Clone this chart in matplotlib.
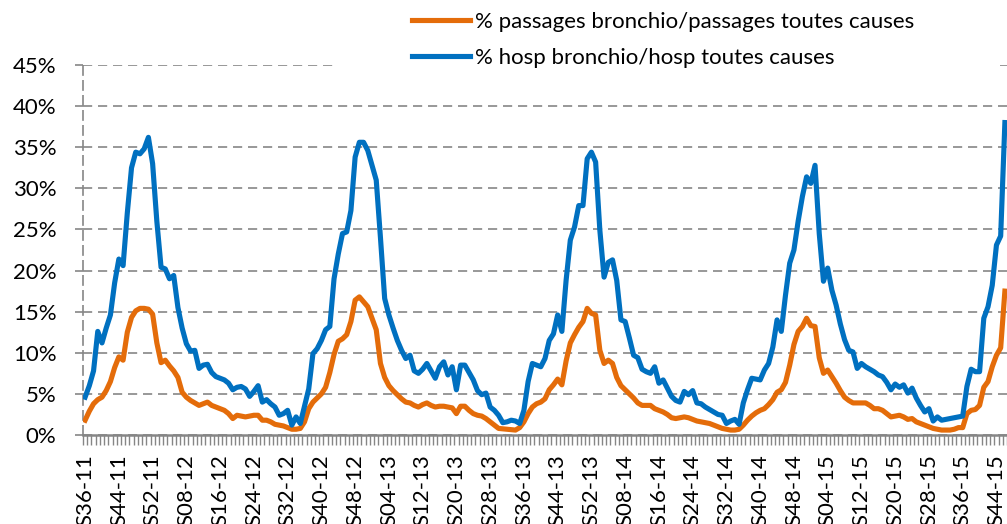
import matplotlib
matplotlib.use('Agg')
import matplotlib.pyplot as plt
from matplotlib.patches import Rectangle

# weekly values (%), S36-11 ... S46-15
hosp = [4.6, 6.0, 7.8, 12.6, 11.2, 13.0, 14.6, 18.5, 21.4, 20.6,
        27.0, 32.5, 34.4, 34.2, 34.8, 36.2, 33.0, 26.0, 20.4, 20.2,
        19.0, 19.4, 15.5, 13.0, 11.1, 10.2, 10.3, 8.1, 8.5, 8.6,
        7.6, 7.1, 6.9, 6.7, 6.3, 5.5, 5.8, 5.9, 5.6, 4.7,
        5.3, 6.0, 4.0, 4.3, 3.8, 3.4, 2.4, 2.6, 3.0, 1.2,
        2.2, 1.4, 3.5, 5.6, 9.9, 10.5, 11.5, 12.8, 13.2, 19.0,
        22.0, 24.5, 24.7, 27.3, 33.8, 35.6, 35.6, 34.6, 32.8, 31.0,
        24.0, 16.6, 14.6, 13.0, 11.5, 10.3, 9.3, 9.7, 7.8, 7.5,
        8.0, 8.7, 7.8, 6.9, 8.3, 8.9, 7.3, 8.3, 5.5, 8.5,
        8.5, 7.6, 6.7, 5.4, 4.9, 5.1, 3.4, 3.0, 2.4, 1.5,
        1.6, 1.8, 1.7, 1.4, 3.0, 6.5, 8.7, 8.5, 8.3, 9.3,
        11.5, 12.3, 14.6, 12.6, 18.8, 23.7, 25.3, 27.9, 27.9, 33.6,
        34.4, 33.2, 24.9, 19.2, 21.0, 21.3, 18.8, 14.0, 13.8, 11.8,
        9.7, 9.4, 8.0, 7.7, 7.5, 8.3, 6.3, 6.7, 5.7, 4.7,
        4.2, 4.0, 5.3, 4.9, 5.4, 3.9, 3.8, 3.4, 3.1, 2.8,
        2.5, 2.4, 1.4, 1.7, 1.9, 1.3, 3.9, 5.5, 6.9, 6.8,
        6.7, 7.9, 8.7, 10.7, 14.0, 12.6, 17.0, 20.9, 22.5, 26.0,
        29.0, 31.4, 30.6, 32.8, 24.5, 18.7, 20.3, 17.6, 15.8, 13.5,
        11.6, 10.3, 10.1, 8.1, 8.7, 8.3, 8.0, 7.7, 7.3, 7.1,
        6.4, 5.5, 6.2, 5.8, 6.1, 5.1, 5.7, 4.5, 3.6, 2.8,
        3.2, 1.7, 2.2, 1.8, 1.9, 2.0, 2.1, 2.2, 2.3, 5.9,
        8.0, 7.7, 7.7, 14.2, 15.6, 18.2, 23.1, 24.2, 38.0]

passages = [1.8, 2.9, 3.8, 4.3, 4.6, 5.4, 6.5, 8.2, 9.5, 9.1,
            12.5, 14.3, 15.1, 15.4, 15.4, 15.3, 14.7, 11.2, 8.8, 9.1,
            8.4, 7.8, 7.0, 5.2, 4.6, 4.2, 3.9, 3.6, 3.8, 4.0,
            3.6, 3.4, 3.2, 3.0, 2.6, 2.0, 2.4, 2.3, 2.2, 2.3,
            2.4, 2.4, 1.8, 1.8, 1.6, 1.3, 1.2, 1.1, 0.9, 0.7,
            0.7, 0.8, 1.6, 3.2, 4.0, 4.5, 5.0, 5.8, 7.6, 9.8,
            11.4, 11.7, 12.2, 13.8, 16.4, 16.8, 16.2, 15.6, 14.2, 12.8,
            8.7, 7.0, 6.0, 5.4, 4.9, 4.4, 4.0, 3.9, 3.6, 3.4,
            3.7, 3.9, 3.6, 3.4, 3.5, 3.5, 3.4, 3.3, 2.6, 3.5,
            3.5, 3.0, 2.6, 2.4, 2.3, 2.0, 1.6, 1.2, 0.8, 0.75,
            0.7, 0.65, 0.6, 0.9, 1.6, 2.6, 3.4, 3.8, 4.0, 4.4,
            5.5, 6.1, 6.8, 6.1, 9.0, 11.2, 12.2, 13.1, 13.8, 15.4,
            14.8, 14.6, 10.3, 8.7, 9.1, 8.7, 7.0, 6.0, 5.5, 5.0,
            4.5, 3.9, 3.6, 3.6, 3.6, 3.2, 3.0, 2.8, 2.5, 2.1,
            2.0, 2.1, 2.2, 2.1, 1.9, 1.7, 1.6, 1.5, 1.4, 1.2,
            1.0, 0.8, 0.7, 0.6, 0.6, 0.7, 1.2, 1.8, 2.3, 2.7,
            3.0, 3.2, 3.7, 4.3, 5.2, 5.5, 6.4, 8.5, 11.0, 12.6,
            13.2, 14.2, 13.3, 13.2, 9.4, 7.5, 7.9, 7.1, 6.3, 5.4,
            4.6, 4.2, 3.9, 3.9, 3.9, 3.9, 3.6, 3.2, 3.2, 3.0,
            2.6, 2.2, 2.3, 2.4, 2.2, 1.9, 2.0, 1.6, 1.4, 1.2,
            1.0, 0.8, 0.7, 0.6, 0.6, 0.6, 0.7, 0.9, 0.9, 2.6,
            3.0, 3.1, 3.6, 5.8, 6.5, 8.3, 9.7, 10.6, 17.5]

week_labels = ['S36-11', 'S44-11', 'S52-11', 'S08-12', 'S16-12', 'S24-12', 'S32-12',
               'S40-12', 'S48-12', 'S04-13', 'S12-13', 'S20-13', 'S28-13', 'S36-13',
               'S44-13', 'S52-13', 'S08-14', 'S16-14', 'S24-14', 'S32-14', 'S40-14',
               'S48-14', 'S04-15', 'S12-15', 'S20-15', 'S28-15', 'S36-15', 'S44-15']
y_ticks = [0, 5, 10, 15, 20, 25, 30, 35, 40, 45]

plt.rcParams['font.family'] = ['Lato', 'DejaVu Sans']
grey = '#868686'

fig = plt.figure(figsize=(10.07, 5.24), dpi=100)
ax = fig.add_axes([83 / 1007, 89 / 524, 924 / 1007, 370 / 524])

n = len(hosp)
x = list(range(n))
ax.plot(x, passages, color='#E46C0A', lw=3.7, solid_joinstyle='round',
        label='% passages bronchio/passages toutes causes', zorder=3)
ax.plot(x, hosp, color='#0070C0', lw=3.7, solid_joinstyle='round',
        label='% hosp bronchio/hosp toutes causes', zorder=3)

ax.set_xlim(-0.5, n - 0.5)
ax.set_ylim(0, 45)
ax.set_yticks(y_ticks)
ax.set_yticklabels([f'{v}%' for v in y_ticks])
ax.set_xticks(range(0, len(week_labels) * 8, 8))
ax.set_xticklabels(week_labels, rotation=90)
ax.set_xticks([i - 0.5 for i in range(n + 1)], minor=True)

ax.grid(axis='y', color=grey, lw=1.2, linestyle=(0, (5.5, 3.5)))
ax.set_axisbelow(True)
for s in ['top', 'right']:
    ax.spines[s].set_visible(False)
ax.spines['left'].set_color(grey)
ax.spines['left'].set_linestyle((0, (5.5, 3.5)))
ax.spines['left'].set_linewidth(1.2)
ax.spines['bottom'].set_color(grey)
ax.spines['bottom'].set_linewidth(1.8)

ax.tick_params(axis='y', length=6, width=1.2, color=grey, pad=13, labelsize=16)
ax.tick_params(axis='x', which='major', length=0, pad=14, labelsize=16)
ax.tick_params(axis='x', which='minor', length=7, width=1, color=grey)

# white box behind the legend, hides the top gridline like the original
fig.patches.append(Rectangle((333 / 1007, 1 - 76 / 524), 667 / 1007, 76 / 524,
                             transform=fig.transFigure, facecolor='white',
                             edgecolor='none', zorder=1))

fig.legend(loc='upper left', bbox_to_anchor=(412 / 1007, 1 - 12 / 524),
           frameon=False, fontsize=16, handlelength=2.6, handletextpad=0.25,
           labelspacing=0.7, borderpad=0, borderaxespad=0)

fig.savefig('out.png', dpi=100)
